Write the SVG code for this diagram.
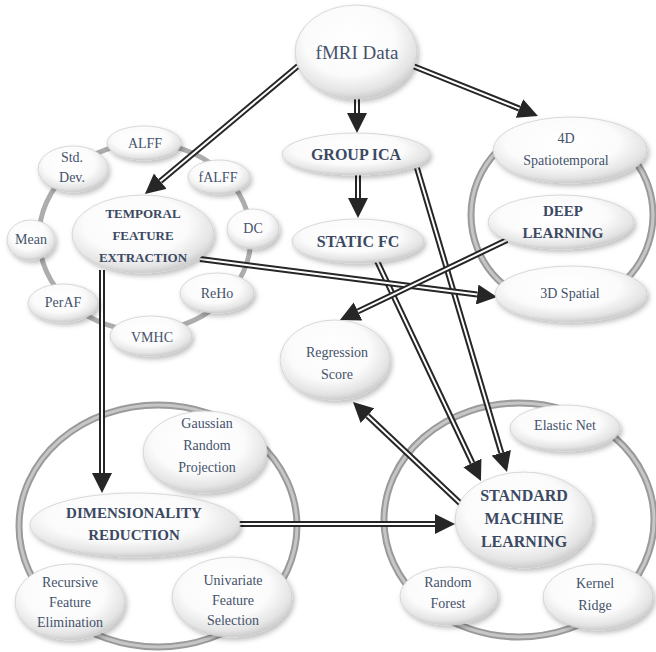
<svg xmlns="http://www.w3.org/2000/svg" width="656" height="652" viewBox="0 0 656 652">
<defs>
<radialGradient id="ng" cx="45%" cy="38%" r="62%">
<stop offset="0" stop-color="#ffffff"/>
<stop offset="0.6" stop-color="#fbfbfb"/>
<stop offset="0.88" stop-color="#e4e4e4"/>
<stop offset="1" stop-color="#cdcdcd"/>
</radialGradient>
<filter id="sh" x="-20%" y="-20%" width="145%" height="150%">
<feDropShadow dx="2" dy="3" stdDeviation="2.5" flood-color="#000" flood-opacity="0.25"/>
</filter>
<marker id="ah" viewBox="0 0 20 20" refX="0" refY="10" markerWidth="20" markerHeight="20" markerUnits="userSpaceOnUse" orient="auto">
<path d="M0,0 L20,10 L0,20 z" fill="#262626"/>
</marker>
</defs>
<style>
.node ellipse{fill:url(#ng);stroke:#cfcfcf;stroke-width:0.8;filter:url(#sh)}
.ringo{fill:none;stroke:#9a9a9a;stroke-width:7}
.ringi{fill:none;stroke:#c6c6c6;stroke-width:3}
.ringt{fill:none;stroke:#adadad;stroke-width:5}
.blk{fill:none;stroke:#262626;stroke-width:6;stroke-linecap:butt}
.wht{fill:none;stroke:#ffffff;stroke-width:2;stroke-linecap:butt}
text{fill:#44526b;text-anchor:middle}
.s{font-size:14px}
.m{font-size:19px}
.b{font-weight:bold;font-size:15px;fill:#3b4963}
</style>
<rect width="656" height="652" fill="#ffffff"/>

<g id="rings">
<ellipse class="ringt" cx="145" cy="237" rx="106" ry="94"/>
<circle class="ringo" cx="562" cy="215" r="91"/>
<circle class="ringi" cx="562" cy="215" r="91"/>
<ellipse class="ringo" cx="158" cy="526" rx="139" ry="121"/>
<ellipse class="ringi" cx="158" cy="526" rx="139" ry="121"/>
<ellipse class="ringo" cx="519" cy="520" rx="135" ry="117"/>
<ellipse class="ringi" cx="519" cy="520" rx="135" ry="117"/>
</g>

<g id="connectors">
<g id="c1"><path class="blk" d="M298,66 L160.3,181.2" marker-end="url(#ah)"/><path class="wht" d="M298,66 L160.3,181.2"/></g>
<g id="c2"><path class="blk" d="M357,98 L357,113" marker-end="url(#ah)"/><path class="wht" d="M357,98 L357,113"/></g>
<g id="c3"><path class="blk" d="M413,66 L519.4,108.6" marker-end="url(#ah)"/><path class="wht" d="M413,66 L519.4,108.6"/></g>
<g id="c4"><path class="blk" d="M358,174 L358,198" marker-end="url(#ah)"/><path class="wht" d="M358,174 L358,198"/></g>
<g id="c5"><path class="blk" d="M417,168 L501.3,452.8" marker-end="url(#ah)"/><path class="wht" d="M417,168 L501.3,452.8"/></g>
<g id="c6"><path class="blk" d="M377,261 L472.4,462.9" marker-end="url(#ah)"/><path class="wht" d="M377,261 L472.4,462.9"/></g>
<g id="c7"><path class="blk" d="M200,259 L477.2,294.5" marker-end="url(#ah)"/><path class="wht" d="M200,259 L477.2,294.5"/></g>
<g id="c8"><path class="blk" d="M507,240 L358,311.4" marker-end="url(#ah)"/><path class="wht" d="M507,240 L358,311.4"/></g>
<g id="c9"><path class="blk" d="M102,270 L102,473" marker-end="url(#ah)"/><path class="wht" d="M102,270 L102,473"/></g>
<g id="c10"><path class="blk" d="M238,524 L435,524" marker-end="url(#ah)"/><path class="wht" d="M238,524 L435,524"/></g>
<g id="c11"><path class="blk" d="M462,505 L367.5,415.7" marker-end="url(#ah)"/><path class="wht" d="M462,505 L367.5,415.7"/></g>
</g>

<g id="nodes" font-family="'Liberation Serif', 'DejaVu Serif', 'Times New Roman', serif">
<g id="fmri" class="node"><ellipse cx="356" cy="52" rx="61" ry="47"/><text class="m" x="357" y="59">fMRI Data</text></g>
<g id="groupica" class="node"><ellipse cx="356" cy="154" rx="74" ry="21"/><text class="b" x="356" y="160" style="font-size:16px">GROUP ICA</text></g>
<g id="staticfc" class="node"><ellipse cx="358" cy="241" rx="66" ry="22"/><text class="b" x="358" y="247" style="font-size:16px">STATIC FC</text></g>

<g id="st4d" class="node"><ellipse cx="570" cy="150" rx="77" ry="33"/><text class="s" x="566" y="143">4D</text><text class="s" x="566" y="165">Spatiotemporal</text></g>
<g id="deeplearning" class="node"><ellipse cx="561" cy="222" rx="73" ry="27"/><text class="b" x="563" y="216">DEEP</text><text class="b" x="563" y="238">LEARNING</text></g>
<g id="sp3d" class="node"><ellipse cx="571" cy="294" rx="76" ry="28"/><text class="s" x="570" y="298">3D Spatial</text></g>

<g id="alff" class="node"><ellipse cx="144" cy="143" rx="37" ry="17"/><text class="s" x="145" y="148">ALFF</text></g>
<g id="stddev" class="node"><ellipse cx="73" cy="169" rx="35" ry="23"/><text class="s" x="72" y="162">Std.</text><text class="s" x="72" y="182">Dev.</text></g>
<g id="falff" class="node"><ellipse cx="219" cy="177" rx="31" ry="17"/><text class="s" x="218" y="182">fALFF</text></g>
<g id="dc" class="node"><ellipse cx="253" cy="229" rx="26" ry="20"/><text class="s" x="253" y="233">DC</text></g>
<g id="mean" class="node"><ellipse cx="31" cy="240" rx="24" ry="20"/><text class="s" x="31" y="244">Mean</text></g>
<g id="reho" class="node"><ellipse cx="217" cy="293" rx="37" ry="20"/><text class="s" x="217" y="298">ReHo</text></g>
<g id="peraf" class="node"><ellipse cx="63" cy="303" rx="35" ry="19"/><text class="s" x="63" y="307">PerAF</text></g>
<g id="vmhc" class="node"><ellipse cx="151" cy="336" rx="41" ry="20"/><text class="s" x="152" y="342">VMHC</text></g>
<g id="tfe" class="node"><ellipse cx="143" cy="234" rx="71" ry="39"/><text class="b" x="143" y="218" style="font-size:13px">TEMPORAL</text><text class="b" x="143" y="240" style="font-size:13px">FEATURE</text><text class="b" x="143" y="262" style="font-size:13px">EXTRACTION</text></g>

<g id="regression" class="node"><ellipse cx="335" cy="360" rx="55" ry="40"/><text class="s" x="337" y="357">Regression</text><text class="s" x="337" y="379">Score</text></g>

<g id="grp" class="node"><ellipse cx="205" cy="452" rx="62" ry="41"/><text class="s" x="207" y="428">Gaussian</text><text class="s" x="207" y="450">Random</text><text class="s" x="207" y="472">Projection</text></g>
<g id="dr" class="node"><ellipse cx="135" cy="525" rx="105" ry="32"/><text class="b" x="134" y="518">DIMENSIONALITY</text><text class="b" x="134" y="540">REDUCTION</text></g>
<g id="rfe" class="node"><ellipse cx="70" cy="602" rx="55" ry="38"/><text class="s" x="70" y="587">Recursive</text><text class="s" x="70" y="607">Feature</text><text class="s" x="70" y="627">Elimination</text></g>
<g id="ufs" class="node"><ellipse cx="232" cy="597" rx="60" ry="40"/><text class="s" x="233" y="585">Univariate</text><text class="s" x="233" y="605">Feature</text><text class="s" x="233" y="625">Selection</text></g>

<g id="elastic" class="node"><ellipse cx="565" cy="428" rx="55" ry="23"/><text class="s" x="565" y="430">Elastic Net</text></g>
<g id="sml" class="node"><ellipse cx="524" cy="520" rx="69" ry="48"/><text class="b" x="524" y="501" style="font-size:16px">STANDARD</text><text class="b" x="524" y="524" style="font-size:16px">MACHINE</text><text class="b" x="524" y="547" style="font-size:16px">LEARNING</text></g>
<g id="rf" class="node"><ellipse cx="449" cy="596" rx="49" ry="29"/><text class="s" x="448" y="587">Random</text><text class="s" x="448" y="608">Forest</text></g>
<g id="kr" class="node"><ellipse cx="598" cy="597" rx="55" ry="33"/><text class="s" x="595" y="588">Kernel</text><text class="s" x="595" y="610">Ridge</text></g>
</g>
</svg>
